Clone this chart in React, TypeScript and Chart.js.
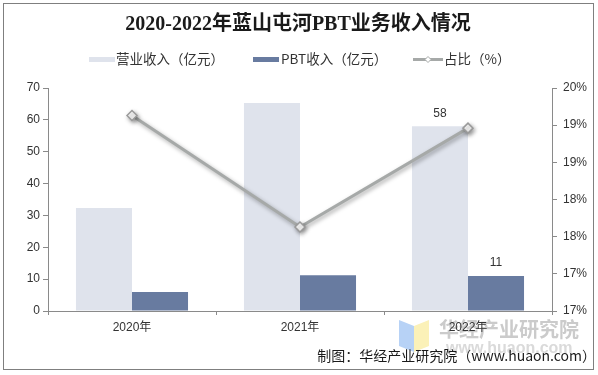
import React, { useEffect, useRef } from "react";
import { Chart, registerables } from "chart.js";

Chart.register(...registerables);

const categories = ["2020年", "2021年", "2022年"];
const revenue = [32.3, 65.3, 58];
const pbt = [6.0, 11.2, 11];
const share = [19.63, 18.13, 19.46];
const revenueLabels = ["", "", "58"];
const pbtLabels = ["", "", "11"];

const titleText = "2020-2022年蓝山屯河PBT业务收入情况";
const legendNames = ["营业收入（亿元）", "PBT收入（亿元）", "占比（%）"];
const creditText = "制图：华经产业研究院（www.huaon.com）";
const watermarkText = "华经产业研究院";
const watermarkUrl = "www.huaon.com";

const LIGHT = "#DFE3EC";
const DARK = "#687BA0";
const LINE = "#A6A9A8";
const AXIS = "#8A8A8A";
const TEXT = "#333333";
const SANS = "'Liberation Sans', 'Noto Sans CJK SC', sans-serif";
const CJK = "'Noto Sans CJK SC', 'Liberation Sans', sans-serif";

const decorPlugin = {
  id: "decor",
  beforeDraw(chart: any) {
    const ctx = chart.ctx;
    ctx.save();
    ctx.fillStyle = "#ffffff";
    ctx.fillRect(0, 0, chart.width, chart.height);
    // logo
    ctx.fillStyle = "#B7D2F6";
    ctx.beginPath();
    ctx.moveTo(399, 320);
    ctx.lineTo(414, 326);
    ctx.lineTo(414, 352);
    ctx.lineTo(399, 346);
    ctx.closePath();
    ctx.fill();
    ctx.fillStyle = "#FBF1B8";
    ctx.beginPath();
    ctx.moveTo(414, 326);
    ctx.lineTo(429, 320);
    ctx.lineTo(429, 346);
    ctx.lineTo(414, 352);
    ctx.closePath();
    ctx.fill();
    // watermark
    ctx.fillStyle = "#CBCBCB";
    ctx.font = `bold 20px ${CJK}`;
    ctx.textAlign = "left";
    ctx.textBaseline = "middle";
    ctx.fillText(watermarkText, 439, 329);
    ctx.fillStyle = "#DADADA";
    ctx.font = `bold 16px ${SANS}`;
    ctx.fillText(watermarkUrl, 446, 349);
    ctx.restore();
  },
  beforeDatasetDraw(chart: any, args: any) {
    if (args.index === 2) {
      const ctx = chart.ctx;
      ctx.save();
      ctx.shadowColor = "rgba(0,0,0,0.35)";
      ctx.shadowBlur = 4;
      ctx.shadowOffsetX = 1.5;
      ctx.shadowOffsetY = 2;
    }
  },
  afterDatasetDraw(chart: any, args: any) {
    if (args.index === 2) {
      chart.ctx.restore();
    }
  },
  afterDraw(chart: any) {
    const ctx = chart.ctx;
    ctx.save();
    // data labels
    ctx.fillStyle = TEXT;
    ctx.font = `12px ${SANS}`;
    ctx.textAlign = "center";
    ctx.textBaseline = "middle";
    const labelSets = [revenueLabels, pbtLabels];
    labelSets.forEach((labels, di) => {
      const meta = chart.getDatasetMeta(di);
      meta.data.forEach((el: any, i: number) => {
        if (labels[i]) ctx.fillText(labels[i], el.x, el.y - 13);
      });
    });
    // title
    ctx.fillStyle = "#1a1a1a";
    ctx.font = `bold 20px 'Liberation Serif', 'Noto Sans CJK SC', serif`;
    ctx.textAlign = "center";
    ctx.fillText(titleText, 298, 25);
    // legend
    ctx.font = `13.5px ${CJK}`;
    ctx.textAlign = "left";
    ctx.fillStyle = LIGHT;
    ctx.fillRect(89, 57, 26, 5);
    ctx.fillStyle = DARK;
    ctx.fillRect(253, 57, 26, 5);
    ctx.strokeStyle = LINE;
    ctx.lineWidth = 3;
    ctx.beginPath();
    ctx.moveTo(413, 59.5);
    ctx.lineTo(443, 59.5);
    ctx.stroke();
    ctx.fillStyle = "#ffffff";
    ctx.lineWidth = 1;
    ctx.beginPath();
    ctx.moveTo(428, 56.5);
    ctx.lineTo(431, 59.5);
    ctx.lineTo(428, 62.5);
    ctx.lineTo(425, 59.5);
    ctx.closePath();
    ctx.fill();
    ctx.stroke();
    ctx.fillStyle = TEXT;
    ctx.fillText(legendNames[0], 116, 59);
    ctx.fillText(legendNames[1], 281, 59);
    ctx.fillText(legendNames[2], 444, 59);
    // credit
    ctx.fillStyle = "#1a1a1a";
    ctx.font = `14px ${CJK}`;
    ctx.textAlign = "right";
    ctx.fillText(creditText, 596, 356);
    // border
    ctx.strokeStyle = "#7F7F7F";
    ctx.lineWidth = 1;
    ctx.strokeRect(3.5, 3.5, 590, 366);
    ctx.restore();
  },
};

export default function App() {
  const ref = useRef<HTMLCanvasElement | null>(null);
  useEffect(() => {
    document.body.style.margin = "0";
    const canvas = ref.current;
    if (!canvas) return;
    const chart = new Chart(canvas, {
      type: "bar",
      data: {
        labels: categories,
        datasets: [
          {
            label: legendNames[0],
            data: revenue,
            backgroundColor: LIGHT,
            yAxisID: "y",
            order: 1,
            barPercentage: 1,
            categoryPercentage: 0.667,
          },
          {
            label: legendNames[1],
            data: pbt,
            backgroundColor: DARK,
            yAxisID: "y",
            order: 1,
            barPercentage: 1,
            categoryPercentage: 0.667,
          },
          {
            type: "line",
            label: legendNames[2],
            data: share,
            yAxisID: "y1",
            borderColor: LINE,
            borderWidth: 3,
            pointStyle: "rectRot",
            pointRadius: 5,
            pointBackgroundColor: "#ffffff",
            pointBorderColor: "#9A9A9A",
            pointBorderWidth: 1.5,
            order: 0,
          } as any,
        ],
      },
      options: {
        animation: false,
        responsive: true,
        maintainAspectRatio: false,
        layout: { padding: { top: 88, left: 0, right: 0, bottom: 0 } },
        plugins: {
          legend: { display: false },
          title: { display: false },
          tooltip: { enabled: false },
        },
        scales: {
          x: {
            offset: true,
            grid: {
              display: true,
              drawOnChartArea: false,
              offset: true,
              tickLength: 4,
              color: AXIS,
            },
            border: { color: AXIS },
            ticks: { color: TEXT, font: { size: 12, family: SANS }, padding: 5 },
            afterFit: (s: any) => {
              s.height = 64;
            },
          },
          y: {
            position: "left",
            min: 0,
            max: 70,
            ticks: {
              stepSize: 10,
              color: TEXT,
              font: { size: 12, family: SANS },
              padding: 3,
            },
            grid: { drawOnChartArea: false, tickLength: 5, color: AXIS },
            border: { color: AXIS },
            afterFit: (s: any) => {
              s.width = 48;
            },
          },
          y1: {
            position: "right",
            min: 17,
            max: 20,
            ticks: {
              stepSize: 0.5,
              color: TEXT,
              font: { size: 12, family: SANS },
              padding: 6,
              callback: (v: any) => Math.floor(Number(v) + 1e-9) + "%",
            },
            grid: { drawOnChartArea: false, tickLength: 5, color: AXIS },
            border: { color: AXIS },
            afterFit: (s: any) => {
              s.width = 46;
            },
          },
        },
      } as any,
      plugins: [decorPlugin],
    });
    return () => chart.destroy();
  }, []);
  return (
    <div style={{ position: "fixed", left: 0, top: 0, width: 598, height: 375 }}>
      <canvas ref={ref} />
    </div>
  );
}
